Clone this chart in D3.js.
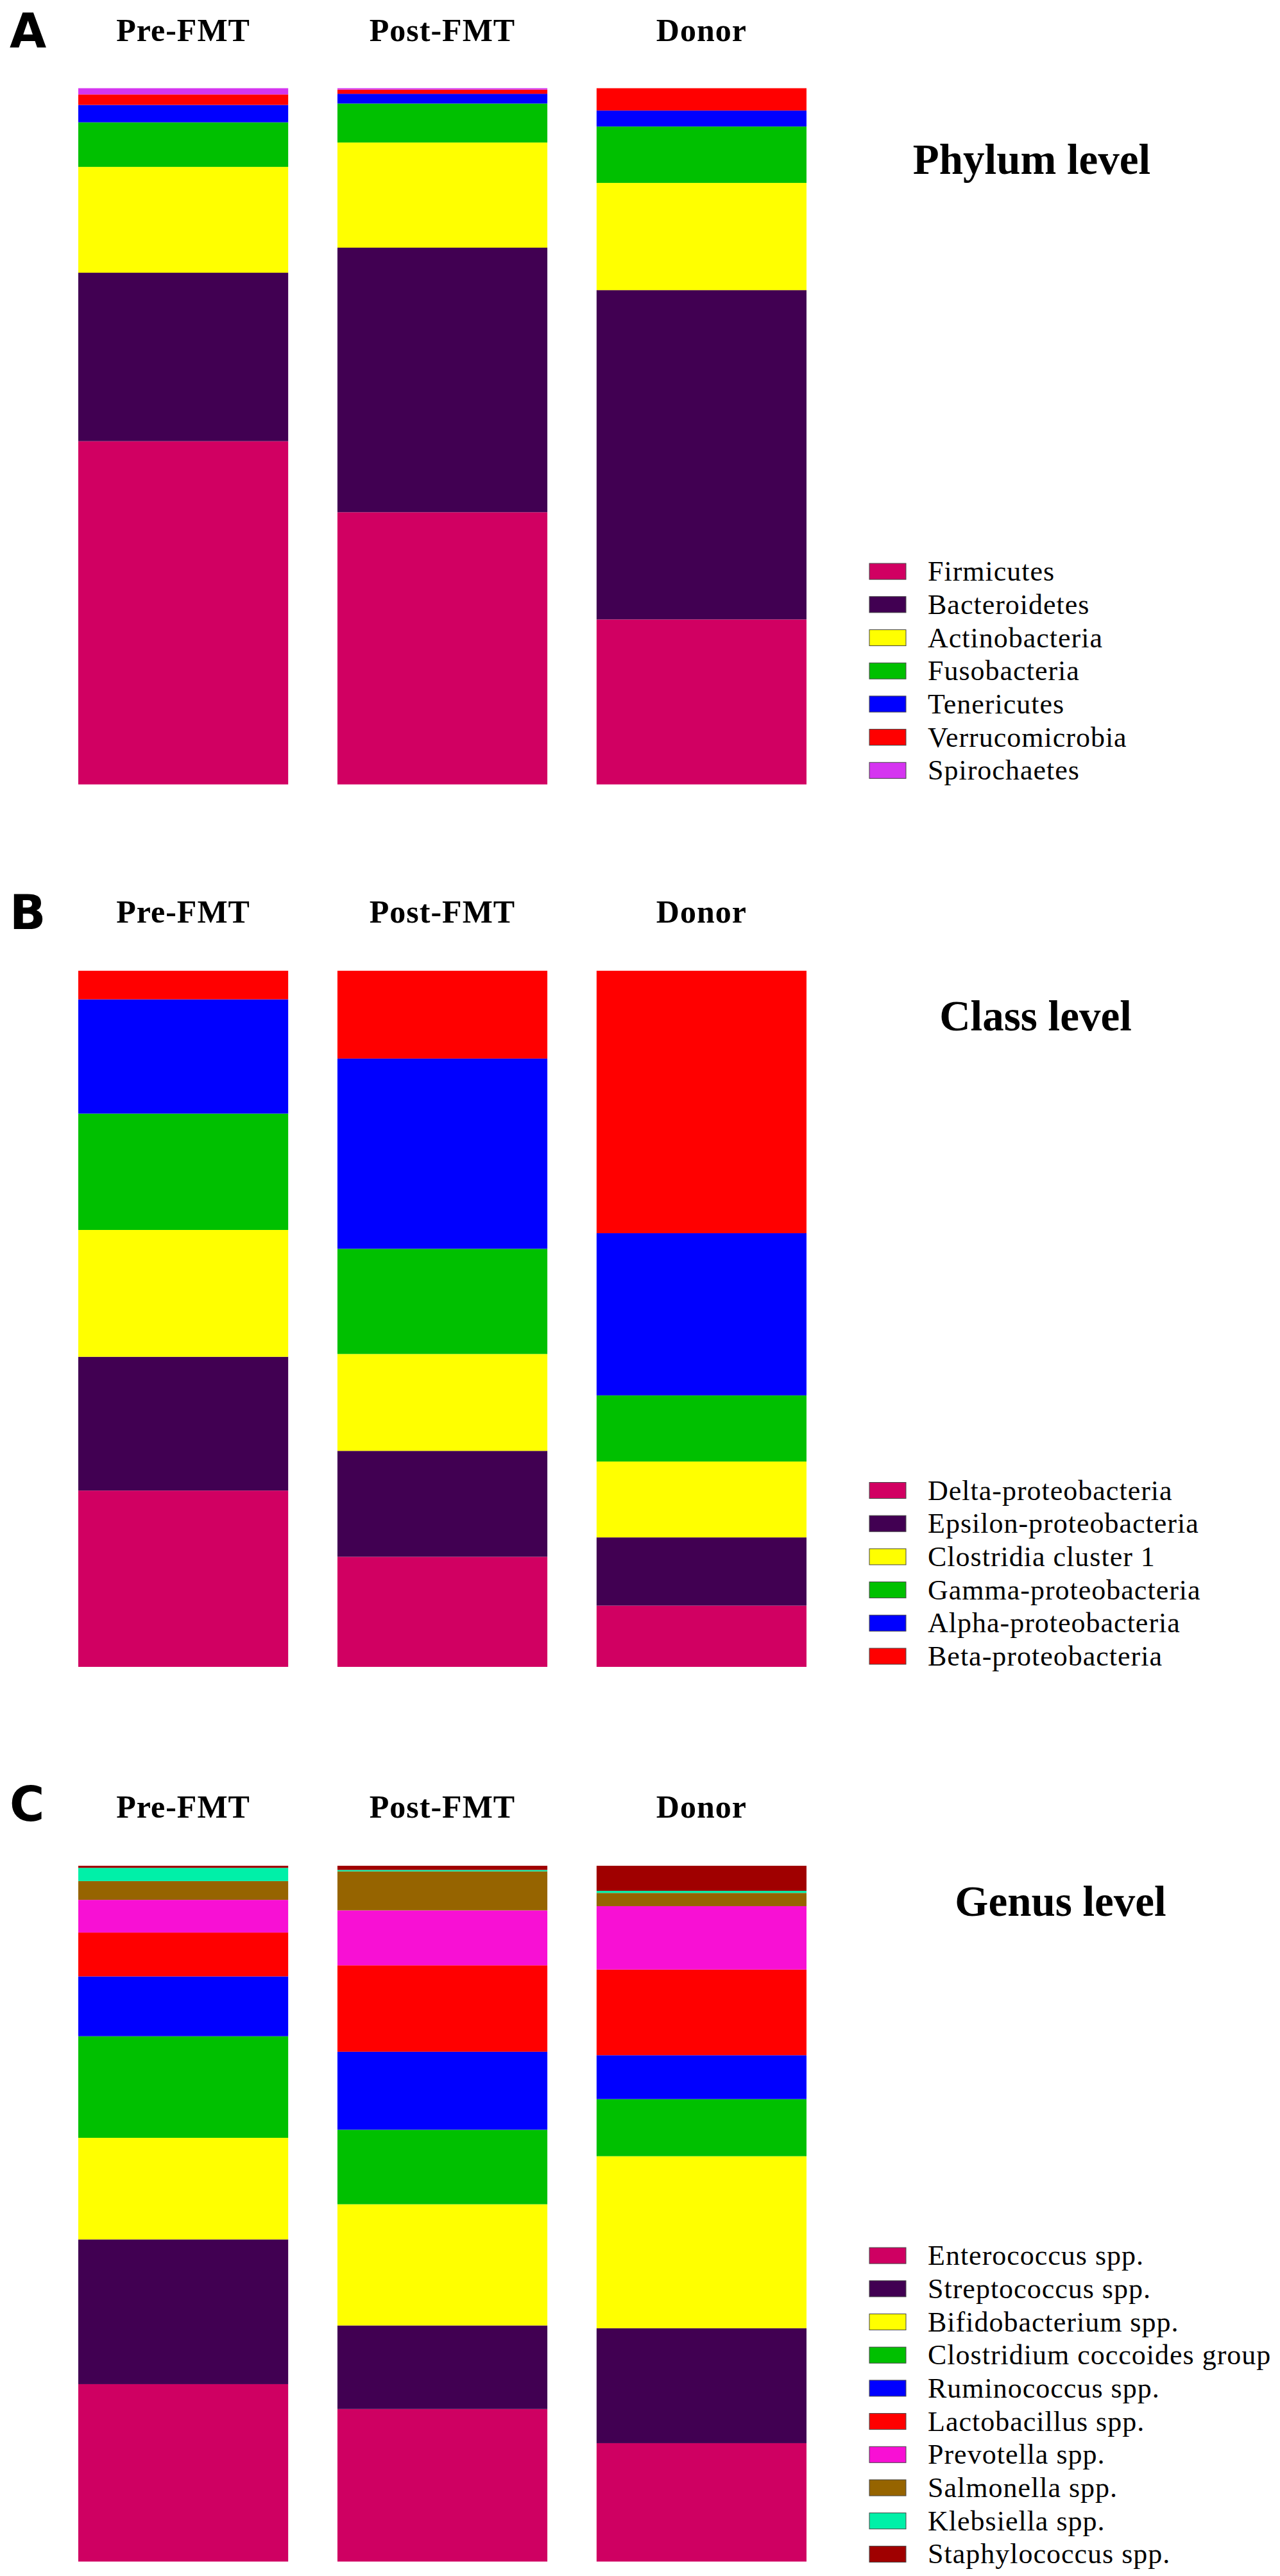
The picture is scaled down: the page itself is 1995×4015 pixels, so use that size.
<!DOCTYPE html>
<html>
<head>
<meta charset="utf-8">
<script src="https://cdn.jsdelivr.net/npm/d3@7"></script>
<style>
  html, body { margin: 0; padding: 0; background: #fff; }
</style>
</head>
<body>
<div id="chart"></div>
<script>
const samples = ["Pre-FMT", "Post-FMT", "Donor"];

// phylum level, % of total, listed bottom -> top
const phylumTaxa = ["Firmicutes", "Bacteroidetes", "Actinobacteria", "Fusobacteria", "Tenericutes", "Verrucomicrobia", "Spirochaetes"];
const phylumColors = ["#d10062", "#410052", "#ffff00", "#00c000", "#0000ff", "#ff0000", "#d535f0"];
const phylumPre = [49.3, 24.2, 15.2, 6.4, 2.5, 1.5, 0.9];
const phylumPost = [39.1, 38.0, 15.1, 5.6, 1.4, 0.6, 0.2];
const phylumDonor = [23.7, 47.3, 15.4, 8.1, 2.3, 3.2, 0];

// class level
const classTaxa = ["Delta-proteobacteria", "Epsilon-proteobacteria", "Clostridia cluster 1", "Gamma-proteobacteria", "Alpha-proteobacteria", "Beta-proteobacteria"];
const classColors = ["#d10062", "#410052", "#ffff00", "#00c000", "#0000ff", "#ff0000"];
const classPre = [25.3, 19.2, 18.2, 16.7, 16.4, 4.1];
const classPost = [15.8, 15.2, 13.9, 15.1, 27.3, 12.6];
const classDonor = [8.8, 9.8, 10.9, 9.5, 23.3, 37.7];

// genus level
const genusTaxa = ["Enterococcus spp.", "Streptococcus spp.", "Bifidobacterium spp.", "Clostridium coccoides group", "Ruminococcus spp.", "Lactobacillus spp.", "Prevotella spp.", "Salmonella spp.", "Klebsiella spp.", "Staphylococcus spp."];
const genusColors = ["#cf0062", "#410052", "#ffff00", "#00c000", "#0000ff", "#ff0000", "#f810d4", "#966400", "#00f0a8", "#a00000"];
const genusPre = [25.5, 20.8, 14.6, 14.6, 8.6, 6.3, 4.7, 2.7, 1.9, 0.3];
const genusPost = [21.9, 12.0, 17.4, 10.7, 11.2, 12.4, 7.9, 5.6, 0.2, 0.6];
const genusDonor = [17.0, 16.5, 24.7, 8.2, 6.3, 12.3, 9.1, 1.9, 0.3, 3.6];

const panelLetters = ["A", "B", "C"];
const panelTitles = ["Phylum level", "Class level", "Genus level"];

const width = 1995;
const height = 4015;
const serif = "'Liberation Serif', 'Times New Roman', serif";
const sans = "'DejaVu Sans', 'Liberation Sans', Arial, sans-serif";

// layout of each panel (pixels)
const layout = [
  { top: 137.5, bottom: 1222.6, head: 64, titleX: 1608, titleY: 271, legend: 890.6 },
  { top: 1513, bottom: 2598, head: 1438, titleX: 1614, titleY: 1606, legend: 2323 },
  { top: 2908, bottom: 3992.5, head: 2833, titleX: 1653, titleY: 2986, legend: 3515.6 }
];

const panels = [
  { taxa: phylumTaxa, colors: phylumColors, values: [phylumPre, phylumPost, phylumDonor] },
  { taxa: classTaxa, colors: classColors, values: [classPre, classPost, classDonor] },
  { taxa: genusTaxa, colors: genusColors, values: [genusPre, genusPost, genusDonor] }
];

const svg = d3.select("#chart")
  .append("svg")
  .attr("width", width)
  .attr("height", height)
  .style("display", "block");

svg.append("rect").attr("width", width).attr("height", height).attr("fill", "#fff");

const x = d3.scaleBand()
  .domain(samples)
  .range([122, 1257])
  .paddingInner(0.19)
  .paddingOuter(0);

function drawPanel(panel, i) {
  const box = layout[i];
  const g = svg.append("g").attr("class", "panel");

  const y = d3.scaleLinear().domain([0, 1]).range([box.bottom, box.top]);
  const color = d3.scaleOrdinal().domain(panel.taxa).range(panel.colors);

  const rows = samples.map((s, j) => {
    const row = { sample: s };
    panel.taxa.forEach((t, k) => { row[t] = panel.values[j][k]; });
    return row;
  });

  const series = d3.stack()
    .keys(panel.taxa)
    .offset(d3.stackOffsetExpand)(rows);

  g.selectAll("g.layer")
    .data(series)
    .join("g")
    .attr("class", "layer")
    .attr("fill", d => color(d.key))
    .selectAll("rect")
    .data(d => d)
    .join("rect")
    .attr("x", d => x(d.data.sample))
    .attr("width", x.bandwidth())
    .attr("y", d => y(d[1]))
    .attr("height", d => Math.max(0, y(d[0]) - y(d[1])));

  // sample headers
  g.selectAll("text.head")
    .data(samples)
    .join("text")
    .attr("class", "head")
    .attr("x", d => x(d) + x.bandwidth() / 2)
    .attr("y", box.head)
    .attr("text-anchor", "middle")
    .call(addTextAttrs, serif, 50, "bold")
    .style("letter-spacing", "1px")
    .text(d => d);

  g.append("text")
    .attr("x", 15)
    .attr("y", box.head + (i === 2 ? 5 : 10))
    .call(addTextAttrs, sans, 74, "bold")
    .text(panelLetters[i]);

  g.append("text")
    .attr("x", box.titleX)
    .attr("y", box.titleY)
    .attr("text-anchor", "middle")
    .call(addTextAttrs, serif, 67, "bold")
    .text(panelTitles[i]);

  // legend, first key at the top
  const legend = g.selectAll("g.key")
    .data(panel.taxa)
    .join("g")
    .attr("class", "key")
    .attr("transform", (d, k) => `translate(1355, ${box.legend + k * 51.7})`);

  legend.append("rect")
    .attr("x", 0)
    .attr("y", -12.5)
    .attr("width", 57)
    .attr("height", 25)
    .attr("fill", d => color(d))
    .attr("stroke", "#444")
    .attr("stroke-width", 1);

  legend.append("text")
    .attr("x", 91)
    .attr("y", 0)
    .attr("dy", "0.33em")
    .call(addTextAttrs, serif, 44, "normal")
    .style("letter-spacing", "1px")
    .text(d => d);
}

function addTextAttrs(selection, family, size, weight) {
  selection
    .attr("fill", "#000")
    .attr("font-family", family)
    .attr("font-size", size)
    .attr("font-weight", weight);
}

panels.forEach(drawPanel);
</script>
</body>
</html>
